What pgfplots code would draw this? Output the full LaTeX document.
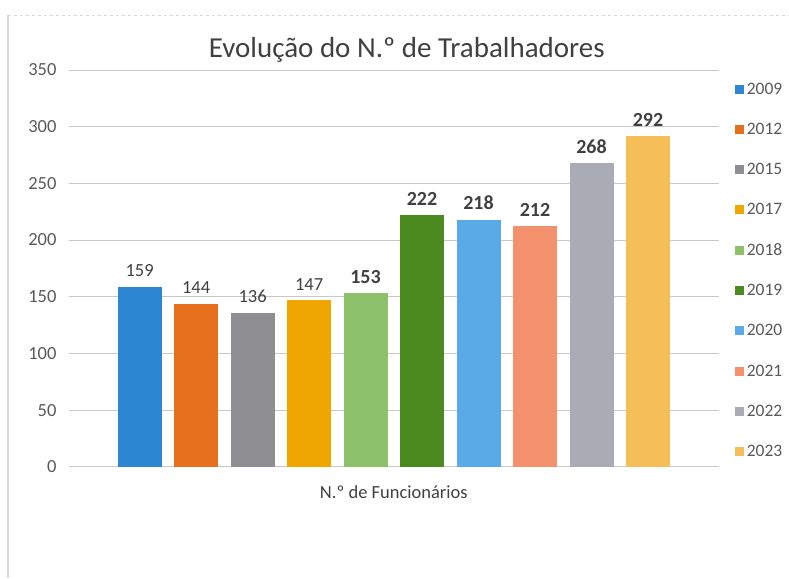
\documentclass[border=0pt]{standalone}
\usepackage{fontspec}
\setmainfont{Carlito}
\usepackage{pgfplots}
\pgfplotsset{compat=1.18}
\definecolor{c2009}{HTML}{2C86D2}
\definecolor{c2012}{HTML}{E7701C}
\definecolor{c2015}{HTML}{8E8E93}
\definecolor{c2017}{HTML}{EFA700}
\definecolor{c2018}{HTML}{8DC26B}
\definecolor{c2019}{HTML}{4A8A1F}
\definecolor{c2020}{HTML}{5BAAE8}
\definecolor{c2021}{HTML}{F2916B}
\definecolor{c2022}{HTML}{A9ACB4}
\definecolor{c2023}{HTML}{F5BE58}
\definecolor{txt}{HTML}{404040}
\definecolor{tick}{HTML}{595959}
\definecolor{grd}{HTML}{C8C8C8}
\begin{document}
\begin{tikzpicture}[x=1pt,y=1pt]
\path (0,0) rectangle (789,578);
\draw[grd!70, line width=1.2pt] (8,0) -- (8,563);
\draw[grd!70, dashed, line width=0.8pt] (8,563) -- (789,563);
\begin{axis}[
  at={(69pt,111pt)}, anchor=south west,
  scale only axis, width=650pt, height=397pt,
  ybar, bar width=44pt,
  xmin=-1.25, xmax=10.25, ymin=0, ymax=350,
  ytick={0,50,...,350}, xtick=\empty,
  axis line style={draw=none},
  major tick length=0pt,
  ymajorgrids, grid style={grd, line width=0.9pt},
  /pgf/number format/assume math mode=true,
  yticklabel style={font=\fontsize{18.5}{22}\selectfont, color=tick, xshift=-9pt},
  title={Evolução do N.º de Trabalhadores},
  title style={font=\fontsize{29}{33}\selectfont, color=txt, at={(axis description cs:0.5,1)}, anchor=center, yshift=14pt, xshift=13pt},
  xlabel={N.º de Funcionários},
  xlabel style={font=\fontsize{18.5}{22}\selectfont, color=txt, at={(axis description cs:0.5,0)}, anchor=center, yshift=-25pt},
  legend style={at={(axis description cs:1,1)}, anchor=north west, xshift=16pt, yshift=-14pt,
    draw=none, fill=none, inner sep=0pt, row sep=30.3pt,
    nodes={inner sep=0pt, text height=10pt, text depth=0pt, font=\fontsize{17.5}{20}\selectfont, text=tick}},
  legend cell align=left,
  legend image code/.code={\fill[#1] (0pt,-4.5pt) rectangle (9pt,4.5pt);},
  nodes near coords,
  every node near coord/.append style={font=\fontsize{18.5}{22}\selectfont, color=txt, yshift=6pt},
]
\addplot[fill=c2009, draw=none, bar shift=0pt] coordinates {(0,159)};
\addlegendentry{\hspace{3pt}2009}
\addplot[fill=c2012, draw=none, bar shift=0pt] coordinates {(1,144)};
\addlegendentry{\hspace{3pt}2012}
\addplot[fill=c2015, draw=none, bar shift=0pt] coordinates {(2,136)};
\addlegendentry{\hspace{3pt}2015}
\addplot[fill=c2017, draw=none, bar shift=0pt] coordinates {(3,147)};
\addlegendentry{\hspace{3pt}2017}
\addplot[fill=c2018, draw=none, bar shift=0pt, every node near coord/.append style={font=\fontsize{20}{24}\selectfont\bfseries}] coordinates {(4,153)};
\addlegendentry{\hspace{3pt}2018}
\addplot[fill=c2019, draw=none, bar shift=0pt, every node near coord/.append style={font=\fontsize{20}{24}\selectfont\bfseries}] coordinates {(5,222)};
\addlegendentry{\hspace{3pt}2019}
\addplot[fill=c2020, draw=none, bar shift=0pt, every node near coord/.append style={font=\fontsize{20}{24}\selectfont\bfseries}] coordinates {(6,218)};
\addlegendentry{\hspace{3pt}2020}
\addplot[fill=c2021, draw=none, bar shift=0pt, every node near coord/.append style={font=\fontsize{20}{24}\selectfont\bfseries}] coordinates {(7,212)};
\addlegendentry{\hspace{3pt}2021}
\addplot[fill=c2022, draw=none, bar shift=0pt, every node near coord/.append style={font=\fontsize{20}{24}\selectfont\bfseries}] coordinates {(8,268)};
\addlegendentry{\hspace{3pt}2022}
\addplot[fill=c2023, draw=none, bar shift=0pt, every node near coord/.append style={font=\fontsize{20}{24}\selectfont\bfseries}] coordinates {(9,292)};
\addlegendentry{\hspace{3pt}2023}
\end{axis}
\end{tikzpicture}
\end{document}
